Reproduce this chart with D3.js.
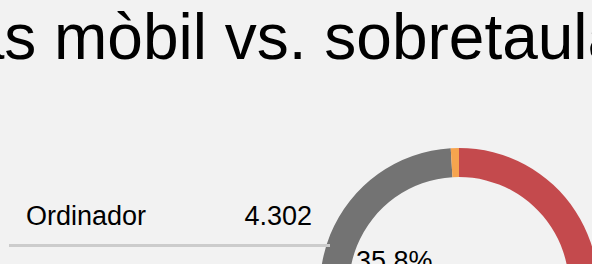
<!DOCTYPE html>
<html>
<head>
<meta charset="utf-8">
<script src="https://cdn.jsdelivr.net/npm/d3@7/dist/d3.min.js"></script>
<style>
  html, body { margin: 0; padding: 0; background: #f2f2f2; overflow: hidden; }
  svg { display: block; font-family: "Liberation Sans", Arial, Helvetica, sans-serif; }
</style>
</head>
<body>
<svg id="chart" width="592" height="264"></svg>
<script>
const title = "Visitas mòbil vs. sobretaula";
const categories = ["Mòbil", "Ordinador", "Tauleta"];
const values = [7600, 4302, 114];
const colors = ["#c44a4d", "#737373", "#f6a44e"];
const legendOrder = ["Ordinador", "Mòbil", "Tauleta"];

const W = 592, H = 264;
const svg = d3.select("#chart");
svg.append("rect").attr("width", W).attr("height", H).attr("fill", "#f2f2f2");

// Title (wider than the view; positioned so the visible part lines up)
const t = svg.append("text")
  .attr("font-size", 64)
  .attr("fill", "#000")
  .attr("y", 59)
  .text(title);
const mIdx = title.indexOf("mòbil");
const xm = t.node().getStartPositionOfChar(mIdx).x;
t.attr("x", 54 - xm);

// Donut
const cx = 459, cy = 287, rOut = 139, rIn = 110;
const pie = d3.pie().sort(null).value(d => d.v);
const data = categories.map((c, i) => ({ c, v: values[i], col: colors[i] }));
const arcs = pie(data);
const arc = d3.arc().innerRadius(rIn).outerRadius(rOut);
const g = svg.append("g").attr("transform", `translate(${cx},${cy})`);
g.selectAll("path").data(arcs).join("path")
  .attr("d", arc).attr("fill", d => d.data.col);

const total = d3.sum(values);
const pct = d3.format(".1%");
const labelArc = d3.arc().innerRadius(70).outerRadius(70);
const sel = arcs.find(a => a.data.c === "Ordinador");
const [lx, ly] = labelArc.centroid(sel);
g.append("text")
  .attr("x", lx).attr("y", ly)
  .attr("text-anchor", "middle")
  .attr("dy", "0.35em")
  .attr("font-size", 27)
  .attr("fill", "#000")
  .text(pct(sel.data.v / total));

// Legend
const fmt = d3.formatLocale({ decimal: ",", thousands: ".", grouping: [3], currency: ["", "€"] }).format(",d");
const rowH = 66;
const rows = svg.append("g");
legendOrder.forEach((name, i) => {
  const y0 = 225 + i * rowH;
  if (y0 - 22 > H) return;
  const v = values[categories.indexOf(name)];
  rows.append("text").attr("x", 26).attr("y", y0).attr("font-size", 27).attr("fill", "#000").text(name);
  rows.append("text").attr("x", 312).attr("y", y0).attr("text-anchor", "end").attr("font-size", 27).attr("fill", "#000").text(fmt(v));
  rows.append("line").attr("x1", 9).attr("x2", 330).attr("y1", y0 + 20.5).attr("y2", y0 + 20.5)
    .attr("stroke", "#cccccc").attr("stroke-width", 3);
});
</script>
</body>
</html>
